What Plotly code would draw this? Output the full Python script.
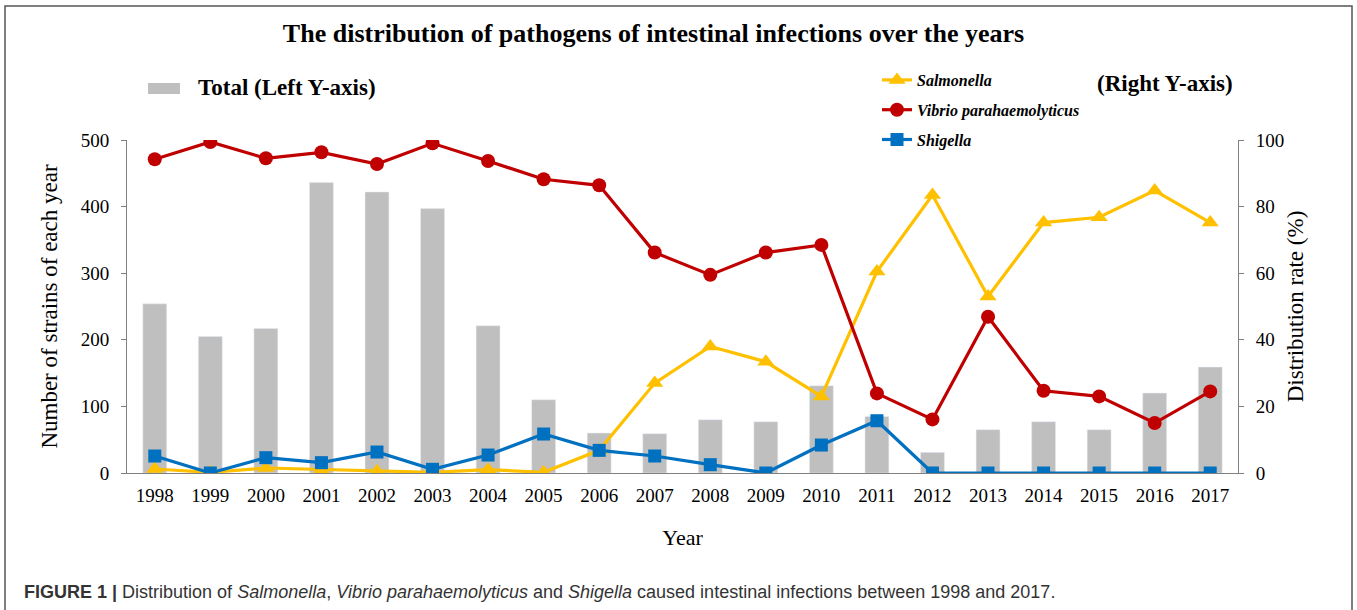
import plotly.graph_objects as go

years = [str(y) for y in range(1998, 2018)]
total = [254, 205, 217, 436, 422, 397, 221, 110, 60, 59, 80, 77, 131, 85, 31, 65, 77, 65, 120, 159]
salmonella = [1.2, 0.2, 1.5, 1.0, 0.5, 0.2, 1.0, 0.2, 6.8, 27.0, 38.0, 33.4, 23.0, 60.5, 83.5, 53.0, 75.2, 76.8, 84.8, 75.2]
vibrio = [94.2, 99.4, 94.5, 96.3, 92.8, 99.0, 93.7, 88.2, 86.4, 66.2, 59.5, 66.2, 68.5, 23.9, 16.1, 46.9, 24.7, 23.0, 15.0, 24.5]
shigella = [5.1, 0.0, 4.6, 3.1, 6.3, 1.1, 5.4, 11.7, 6.8, 5.1, 2.5, 0.0, 8.4, 15.7, 0.0, 0.0, 0.0, 0.0, 0.0, 0.0]

SERIF = "Liberation Serif"
AX = "#808080"

# pixel geometry helpers
L, R, T, B = 127, 1238, 140, 473
W, H = 1357, 610
def px(x):
    return (x - L) / (R - L)
def py(y):
    return (B - y) / (B - T)

fig = go.Figure()
fig.add_trace(go.Bar(x=years, y=total, name="Total (Left Y-axis)", marker=dict(color="#BFBFBF"),
                     width=0.43, showlegend=False, yaxis="y"))
fig.add_trace(go.Scatter(x=years, y=salmonella, name="<b><i>Salmonella</i></b>", yaxis="y2",
                         mode="lines+markers", line=dict(color="#FFC000", width=3.2),
                         marker=dict(symbol="triangle-up", size=15, color="#FFC000"),
                         legend="legend2", legendgroup="a"))
fig.add_trace(go.Scatter(x=years, y=vibrio, name="<b><i>Vibrio parahaemolyticus</i></b>", yaxis="y2",
                         mode="lines+markers", line=dict(color="#C00000", width=3.2),
                         marker=dict(symbol="circle", size=14, color="#C00000"),
                         legend="legend2", legendgroup="b"))
fig.add_trace(go.Scatter(x=years, y=shigella, name="<b><i>Shigella</i></b>", yaxis="y2",
                         mode="lines+markers", line=dict(color="#0070C0", width=3.2),
                         marker=dict(symbol="square", size=13, color="#0070C0"),
                         legend="legend2", legendgroup="c"))

fig.update_layout(
    width=W, height=H,
    margin=dict(l=L, r=W - R, t=T, b=H - B, pad=0),
    paper_bgcolor="white", plot_bgcolor="white",
    font=dict(family=SERIF, color="black"),
    title=dict(text="<b>The distribution of pathogens of intestinal infections over the years</b>",
               font=dict(size=26, family=SERIF, color="black"),
               xref="container", x=653.5 / W, xanchor="center",
               yref="container", y=1 - 33 / H, yanchor="middle"),
    xaxis=dict(type="category", range=[-0.5, 19.5], showline=True, linecolor=AX, linewidth=1,
               ticks="", tickfont=dict(size=19, family=SERIF), showgrid=False, ticklabelstandoff=5,
               title=dict(text="Year", font=dict(size=22, family=SERIF), standoff=24)),
    yaxis=dict(range=[0, 500], dtick=100, showline=True, linecolor=AX, linewidth=1,
               ticks="outside", ticklen=5, tickcolor=AX, showgrid=False, zeroline=False,
               tickfont=dict(size=19, family=SERIF), ticklabelstandoff=8,
               title=dict(text="Number of strains of each year", font=dict(size=23, family=SERIF), standoff=16)),
    yaxis2=dict(range=[0, 100], dtick=20, overlaying="y", side="right", showline=True, linecolor=AX,
                linewidth=1, ticks="outside", ticklen=5, tickcolor=AX, showgrid=False, zeroline=False,
                tickfont=dict(size=19, family=SERIF), ticklabelstandoff=8,
                title=dict(text="Distribution rate (%)", font=dict(size=23, family=SERIF), standoff=3)),
    legend2=dict(x=px(877), xanchor="left", y=py(63), yanchor="top", xref="paper", yref="paper",
                 bgcolor="rgba(0,0,0,0)", font=dict(size=16, family=SERIF, color="black"),
                 tracegroupgap=6, itemwidth=30, borderwidth=0),
    showlegend=True,
)

# Left legend entry (Total)
fig.add_shape(type="rect", xref="paper", yref="paper", x0=px(148), x1=px(180), y0=py(94), y1=py(83),
              fillcolor="#BFBFBF", line=dict(width=0))
fig.add_annotation(text="<b>Total (Left Y-axis)</b>", xref="paper", yref="paper", x=px(196), y=py(88),
                   xanchor="left", yanchor="middle", showarrow=False,
                   font=dict(size=23, family=SERIF, color="black"))
fig.add_annotation(text="<b>(Right Y-axis)</b>", xref="paper", yref="paper", x=px(1235), y=py(83),
                   xanchor="right", yanchor="middle", showarrow=False,
                   font=dict(size=23, family=SERIF, color="black"))
# Caption
fig.add_annotation(text="<b>FIGURE 1 |</b> Distribution of <i>Salmonella</i>, <i>Vibrio parahaemolyticus</i> and "
                        "<i>Shigella</i> caused intestinal infections between 1998 and 2017.",
                   xref="paper", yref="paper", x=px(22), y=py(592), xanchor="left", yanchor="middle",
                   showarrow=False, font=dict(size=18, family="Liberation Sans", color="#333333"))
# Frame
fig.add_shape(type="rect", xref="paper", yref="paper", x0=px(5), x1=px(1352), y0=py(640), y1=py(6),
              line=dict(color="#555555", width=1.5), fillcolor="rgba(0,0,0,0)", layer="above")

fig.write_html("out.html", config={"displayModeBar": False},
               post_script="document.body.style.margin='0px';document.body.style.overflow='hidden';")
